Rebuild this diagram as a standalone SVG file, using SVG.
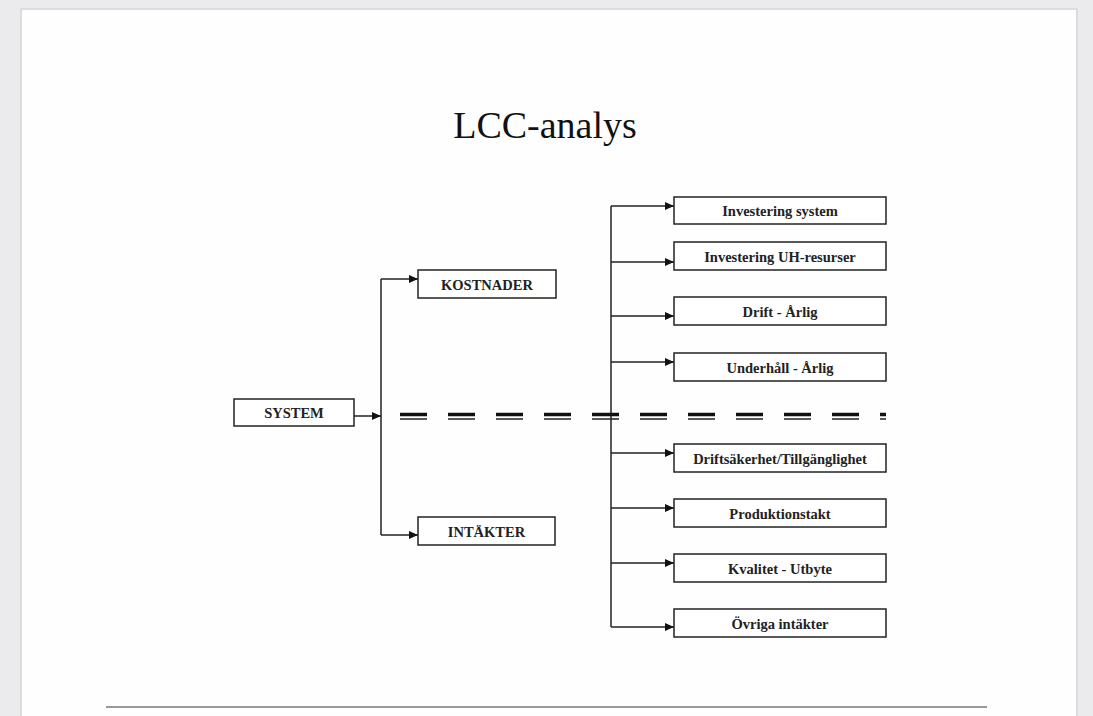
<svg xmlns="http://www.w3.org/2000/svg" width="1093" height="716" viewBox="0 0 1093 716">
<defs>
<marker id="ah" markerWidth="10" markerHeight="10" refX="9" refY="5" orient="auto" markerUnits="userSpaceOnUse">
<path d="M0,1 L9,5 L0,9 Z" fill="#111"/>
</marker>
<style>
.box{fill:#fff;stroke:#222;stroke-width:1.5}
.lbl{font-family:"Liberation Serif","Times New Roman",serif;font-weight:bold;font-size:14.5px;fill:#222;text-anchor:middle}
.con{fill:none;stroke:#222;stroke-width:1.5}
.arr{fill:none;stroke:#222;stroke-width:1.5;marker-end:url(#ah)}
</style>
</defs>
<rect x="0" y="0" width="1093" height="716" fill="#ebebee"/>
<rect x="20" y="8" width="1058" height="708" fill="#dcdcdf"/>
<rect x="22" y="10" width="1054" height="706" fill="#fefefe"/>
<text x="545" y="138" font-family="Liberation Serif, Times New Roman, serif" font-size="38" fill="#111" text-anchor="middle">LCC-analys</text>
<g id="connectors">
<line class="arr" x1="354" y1="416" x2="381" y2="416"/>
<line class="con" x1="381" y1="279" x2="381" y2="535"/>
<line class="arr" x1="381" y1="279" x2="418" y2="279"/>
<line class="arr" x1="381" y1="535" x2="418" y2="535"/>
<line class="con" x1="611" y1="206" x2="611" y2="627"/>
<line class="arr" x1="611" y1="206" x2="674" y2="206"/>
<line class="arr" x1="611" y1="262" x2="674" y2="262"/>
<line class="arr" x1="611" y1="316" x2="674" y2="316"/>
<line class="arr" x1="611" y1="362" x2="674" y2="362"/>
<line class="arr" x1="611" y1="453" x2="674" y2="453"/>
<line class="arr" x1="611" y1="508" x2="674" y2="508"/>
<line class="arr" x1="611" y1="563" x2="674" y2="563"/>
<line class="arr" x1="611" y1="627" x2="674" y2="627"/>
</g>
<g id="divider">
<line x1="400" y1="414.5" x2="886" y2="414.5" stroke="#111" stroke-width="3.5" stroke-dasharray="27 21"/>
<line x1="400" y1="419" x2="886" y2="419" stroke="#222" stroke-width="1.5" stroke-dasharray="27 21"/>
</g>
<g id="system"><rect class="box" x="234" y="399" width="120" height="27"/><text class="lbl" x="294" y="418">SYSTEM</text></g>
<g id="kostnader"><rect class="box" x="418" y="270" width="138" height="28"/><text class="lbl" x="487" y="289.5">KOSTNADER</text></g>
<g id="intakter"><rect class="box" x="418" y="517" width="137" height="28"/><text class="lbl" x="486.5" y="536.5">INTÄKTER</text></g>
<g id="inv-system"><rect class="box" x="674" y="197" width="212" height="27"/><text class="lbl" x="780" y="216">Investering system</text></g>
<g id="inv-uh"><rect class="box" x="674" y="242" width="212" height="28"/><text class="lbl" x="780" y="261.5">Investering UH-resurser</text></g>
<g id="drift"><rect class="box" x="674" y="297" width="212" height="28"/><text class="lbl" x="780" y="316.5">Drift - Årlig</text></g>
<g id="underhall"><rect class="box" x="674" y="353" width="212" height="28"/><text class="lbl" x="780" y="372.5">Underhåll - Årlig</text></g>
<g id="driftsakerhet"><rect class="box" x="674" y="444" width="212" height="28"/><text class="lbl" x="780" y="463.5">Driftsäkerhet/Tillgänglighet</text></g>
<g id="produktionstakt"><rect class="box" x="674" y="499" width="212" height="28"/><text class="lbl" x="780" y="518.5">Produktionstakt</text></g>
<g id="kvalitet"><rect class="box" x="674" y="554" width="212" height="28"/><text class="lbl" x="780" y="573.5">Kvalitet - Utbyte</text></g>
<g id="ovriga"><rect class="box" x="674" y="609" width="212" height="28"/><text class="lbl" x="780" y="628.5">Övriga intäkter</text></g>
<line x1="106" y1="707" x2="987" y2="707" stroke="#777" stroke-width="1.5"/>
</svg>
